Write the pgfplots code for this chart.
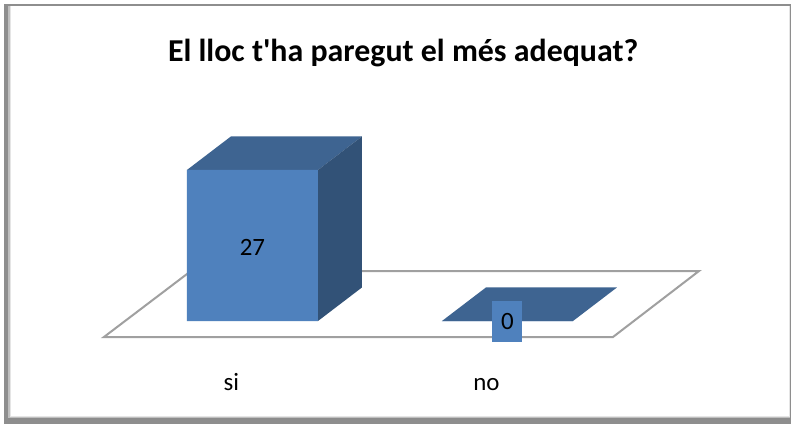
\documentclass[border=0pt]{standalone}
\usepackage{pgfplots}
\pgfplotsset{compat=1.18}
\usepackage{fontspec}
\setmainfont{Carlito}
\newfontfamily\plainfont{Carlito}
\definecolor{barfront}{HTML}{4F81BD}
\definecolor{bartop}{HTML}{3E6491}
\definecolor{barside}{HTML}{325277}
\definecolor{floorline}{HTML}{A0A0A0}
\definecolor{frameg}{HTML}{8E8E8E}
\begin{document}
\begin{tikzpicture}
\useasboundingbox (0,0) rectangle (792bp,426bp);
% chart frame, pixel coordinates of the reference
\begin{scope}[x=1bp,y=-1bp,yshift=426bp]
\fill[white] (0,0) rectangle (792,426);
\fill[frameg] (4,4) rectangle (791,424);
\fill[black!25] (8,6.5) rectangle (790,418);
\fill[black!10] (9.5,6.5) rectangle (790,417);
\fill[white] (11,6.5) rectangle (789,416);
\fill[black!45] (8,418) rectangle (790,420);
\end{scope}
\begin{axis}[
  at={(0,0)}, anchor=south west,
  scale only axis, width=792bp, height=426bp,
  xmin=-0.990, xmax=2.1157, ymin=-18.77, ymax=57.39,
  axis line style={draw=none},
  tick style={draw=none},
  ytick=\empty,
  xtick={0,1}, xticklabels={si,no},
  xticklabel style={font=\plainfont\fontsize{25}{30}\selectfont, anchor=base, xshift=-21bp, yshift=36bp},
  clip=false,
  title style={at={(0.509,0.862)}, anchor=center, font=\plainfont\bfseries\fontsize{32}{38}\selectfont},
  title={El lloc t'ha paregut el més adequat?},
]
% floor
\addplot[fill=white, draw=floorline, line width=2bp] coordinates {(-0.5824,-2.861) (1.4137,-2.861) (1.7510,8.94) (-0.2412,8.94)} -- cycle;
% bar "si": top and side
\addplot[fill=bartop, draw=none] coordinates {(-0.2569,27) (0.2569,27) (0.4294,33) (-0.0844,33)} -- cycle;
\addplot[fill=barside, draw=none] coordinates {(0.2569,27) (0.4294,33) (0.4294,6) (0.2569,0)} -- cycle;
% bar "no": top
\addplot[fill=bartop, draw=none] coordinates {(0.7431,0) (1.2569,0) (1.4294,6) (0.9156,6)} -- cycle;
% front faces
\addplot[ybar, bar width=131bp, fill=barfront, draw=none] coordinates {(0,27) (1,0)};
\node[font=\plainfont\fontsize{25}{30}\selectfont, text=black] at (axis cs:0,13.2) {27};
\node[fill=barfront, font=\plainfont\fontsize{25}{30}\selectfont, text=black, minimum width=30bp, minimum height=41bp, inner sep=0pt] at (axis cs:1,0) {0};
\end{axis}
\end{tikzpicture}
\end{document}
